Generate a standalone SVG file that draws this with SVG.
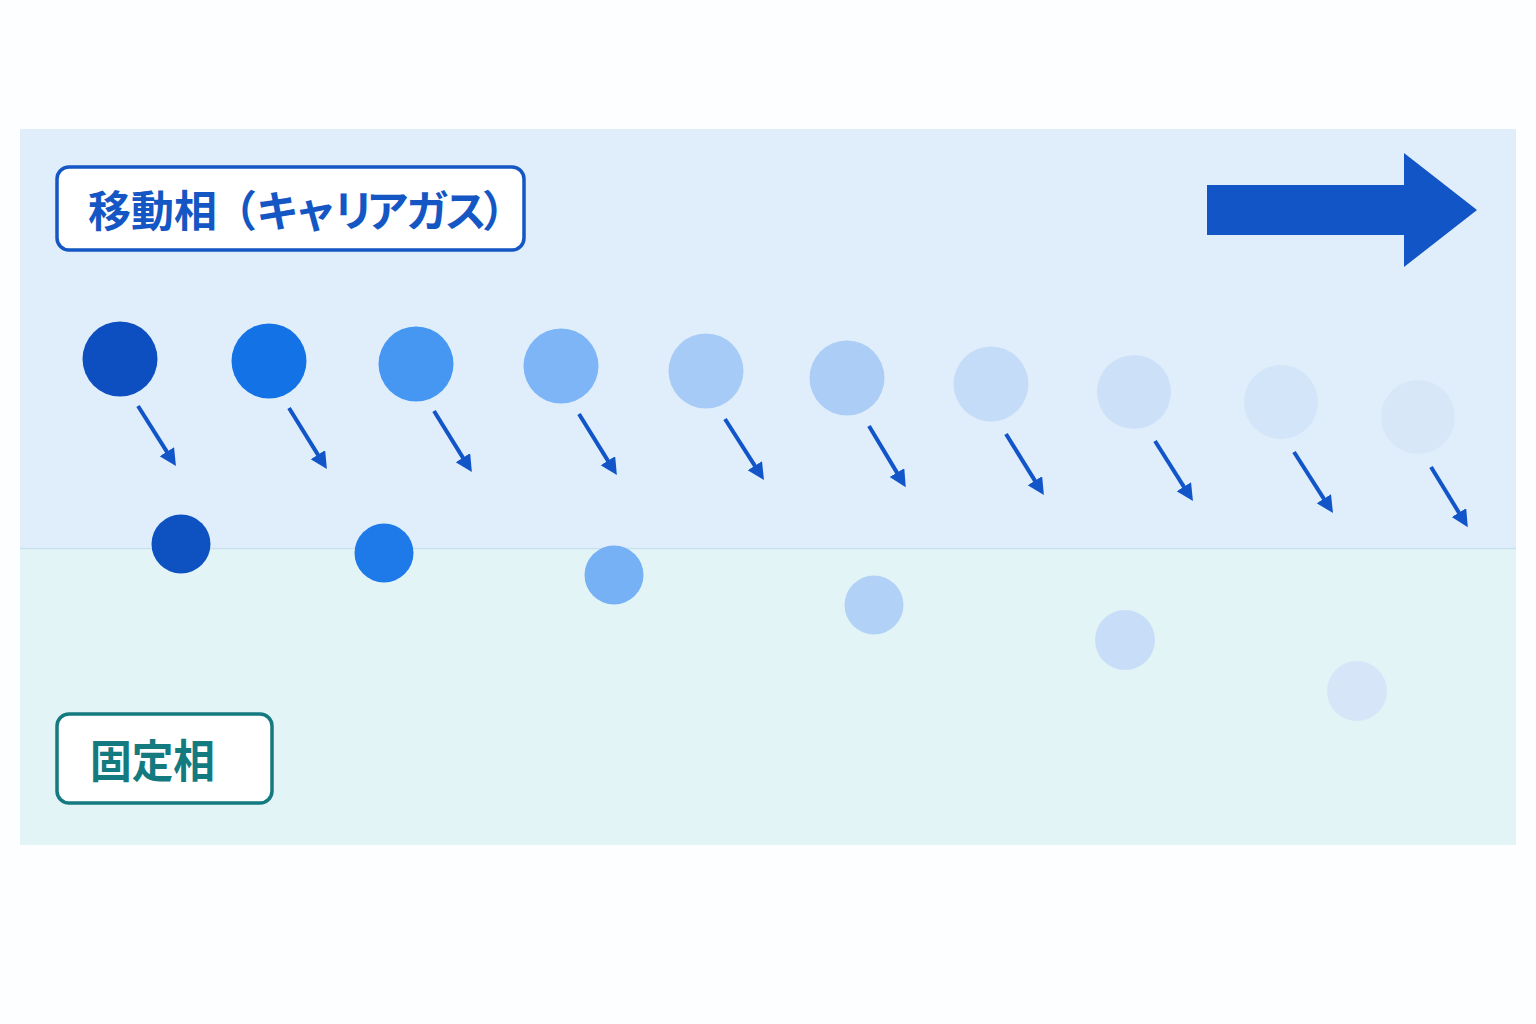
<svg xmlns="http://www.w3.org/2000/svg" width="1536" height="1024" viewBox="0 0 1536 1024">
  <defs>
    <marker id="ah" markerUnits="userSpaceOnUse" markerWidth="18" markerHeight="18" viewBox="0 0 18 18" refX="7" refY="8.5" orient="auto">
      <path d="M0,0 L17,8.5 L0,17 z" fill="#1155C8"/>
    </marker>
  </defs>
  <style>
    .arrow { stroke: #1155C8; stroke-width: 4; fill: none; marker-end: url(#ah); }
    .lbl { font-family: "Noto Sans CJK JP", "Noto Sans", sans-serif; font-weight: 700; }
  </style>
  <rect x="0" y="0" width="1536" height="1024" fill="#FDFEFF"/>
  <g id="panel">
    <rect x="20" y="129" width="1496" height="420" fill="#E0EEFB"/>
    <rect x="20" y="549" width="1496" height="296" fill="#E2F4F5"/>
    <line x1="20" y1="548.5" x2="1516" y2="548.5" stroke="#C9E1EE" stroke-width="1.5"/>
  </g>
  <g id="label-mobile">
    <rect x="57" y="167" width="467" height="83" rx="12" fill="#FFFFFF" stroke="#1457C4" stroke-width="3.5"/>
    <text class="lbl" x="88 131 174 214 256 294 332 366 406 444 482" y="227" font-size="43" fill="#1457C4">移動相（キャリアガス）</text>
  </g>
  <g id="label-stationary">
    <rect x="57" y="714" width="215" height="89" rx="12" fill="#FFFFFF" stroke="#147A80" stroke-width="3.5"/>
    <text class="lbl" x="90" y="778" font-size="45" fill="#137A7F" textLength="125" lengthAdjust="spacingAndGlyphs">固定相</text>
  </g>
  <g id="flow-arrow">
    <polygon points="1207,185 1404,185 1404,153 1477,210 1404,267 1404,235 1207,235" fill="#1155C6"/>
  </g>
  <g id="mobile-molecules">
    <circle cx="120" cy="359" r="37.5" fill="#0D4FC0"/>
    <circle cx="269" cy="361" r="37.5" fill="#1272E6"/>
    <circle cx="416" cy="364" r="37.5" fill="#4597F2"/>
    <circle cx="561" cy="366" r="37.5" fill="#7DB5F6"/>
    <circle cx="706" cy="371" r="37.5" fill="#A6CBF7"/>
    <circle cx="847" cy="378" r="37.5" fill="#ACCEF6"/>
    <circle cx="991" cy="384" r="37.5" fill="#C5DCF8"/>
    <circle cx="1134" cy="392" r="37" fill="#CCE1F8"/>
    <circle cx="1281" cy="402" r="37" fill="#D3E5F8"/>
    <circle cx="1418" cy="417" r="37" fill="#D8E7F8"/>
  </g>
  <g id="stationary-molecules">
    <circle cx="181" cy="544" r="29.5" fill="#0E52C2"/>
    <circle cx="384" cy="553" r="29.5" fill="#1E7AE8"/>
    <circle cx="614" cy="575" r="29.5" fill="#76B0F5"/>
    <circle cx="874" cy="605" r="29.5" fill="#B1D1F7"/>
    <circle cx="1125" cy="640" r="30" fill="#C8DEF8"/>
    <circle cx="1357" cy="691" r="30" fill="#D6E6F8"/>
  </g>
  <g id="connectors">
    <line class="arrow" x1="138" y1="406" x2="170.6" y2="457.6"/>
    <line class="arrow" x1="289" y1="408" x2="321.6" y2="460.6"/>
    <line class="arrow" x1="434" y1="411" x2="466.6" y2="463.6"/>
    <line class="arrow" x1="579" y1="414" x2="611.6" y2="466.6"/>
    <line class="arrow" x1="725" y1="419" x2="758.6" y2="471.6"/>
    <line class="arrow" x1="869" y1="426" x2="900.6" y2="478.6"/>
    <line class="arrow" x1="1006" y1="434" x2="1038.6" y2="486.6"/>
    <line class="arrow" x1="1155" y1="441" x2="1187.6" y2="492.6"/>
    <line class="arrow" x1="1294" y1="452" x2="1327.6" y2="504.6"/>
    <line class="arrow" x1="1431" y1="467" x2="1462.6" y2="518.6"/>
  </g>
</svg>
